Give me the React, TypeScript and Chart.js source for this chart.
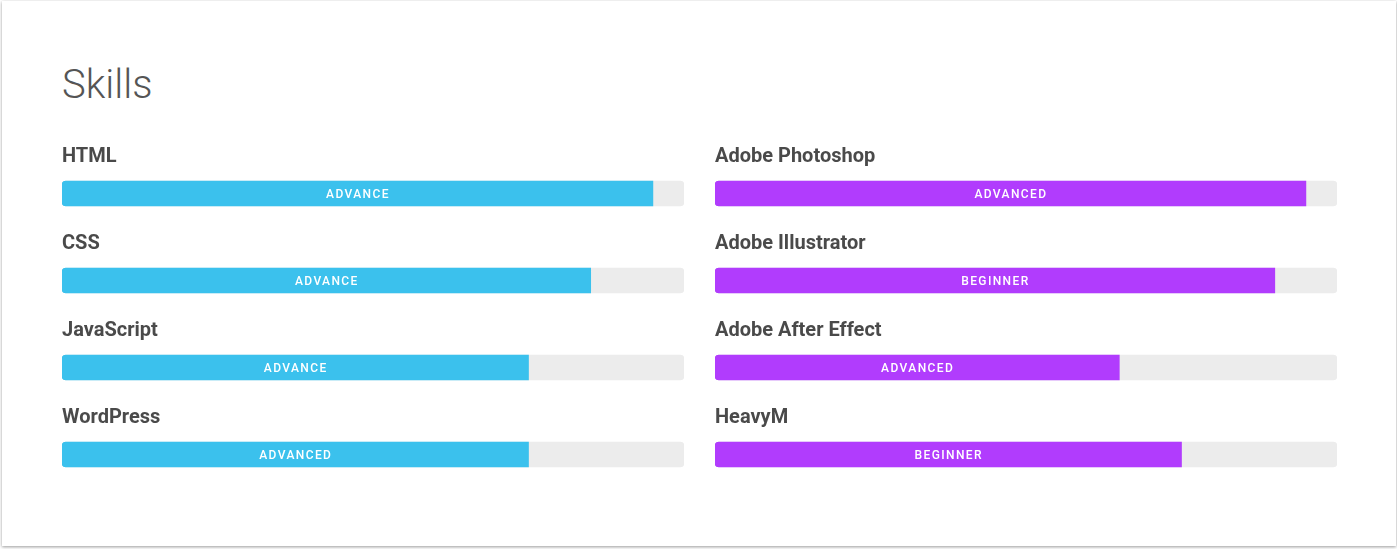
import React, { useEffect, useRef } from "react";
import { Chart, registerables } from "chart.js";

Chart.register(...registerables);

const leftSkills = ["HTML", "CSS", "JavaScript", "WordPress"];
const leftValues = [95, 85, 75, 75];
const leftLevels = ["ADVANCE", "ADVANCE", "ADVANCE", "ADVANCED"];

const rightSkills = ["Adobe Photoshop", "Adobe Illustrator", "Adobe After Effect", "HeavyM"];
const rightValues = [95, 90, 65, 75];
const rightLevels = ["ADVANCED", "BEGINNER", "ADVANCED", "BEGINNER"];

const trackMax = 100;

type Props = {
  skills: string[];
  values: number[];
  levels: string[];
  color: string;
  left: number;
};

function SkillChart({ skills, values, levels, color, left }: Props) {
  const ref = useRef<HTMLCanvasElement>(null);

  useEffect(() => {
    if (!ref.current) return;
    const textPlugin = {
      id: "skillText",
      afterDatasetsDraw(chart: any) {
        const ctx = chart.ctx as CanvasRenderingContext2D;
        const meta = chart.getDatasetMeta(0);
        ctx.save();
        meta.data.forEach((bar: any, i: number) => {
          const { x, y, base } = bar.getProps(["x", "y", "base"], true);
          (ctx as any).letterSpacing = "0px";
          ctx.font = "bold 20px Roboto";
          ctx.fillStyle = "#4a4a4a";
          ctx.textAlign = "left";
          ctx.textBaseline = "middle";
          ctx.fillText(skills[i], chart.chartArea.left, y - 37);

          (ctx as any).letterSpacing = "1.4px";
          ctx.font = "500 12px Roboto";
          ctx.fillStyle = "#ffffff";
          ctx.textAlign = "center";
          ctx.fillText(levels[i], (x + base) / 2 + 0.5, y + 1);
        });
        ctx.restore();
      },
    };

    const chart = new Chart(ref.current, {
      type: "bar",
      data: {
        labels: skills,
        datasets: [
          {
            data: values,
            backgroundColor: color,
            barThickness: 25,
            grouped: false,
            borderSkipped: false,
            borderRadius: { topLeft: 4, bottomLeft: 4, topRight: 0, bottomRight: 0 },
          } as any,
          {
            data: skills.map(() => trackMax),
            backgroundColor: "#ececec",
            barThickness: 25,
            grouped: false,
            borderSkipped: false,
            borderRadius: 4,
          } as any,
        ],
      },
      options: {
        indexAxis: "y",
        animation: false,
        responsive: false,
        events: [],
        layout: { padding: { top: 30, left: 0, right: 0, bottom: 0 } },
        plugins: {
          legend: { display: false },
          tooltip: { enabled: false },
        },
        scales: {
          x: { type: "linear", min: 0, max: trackMax, display: false },
          y: { type: "category", display: false, offset: true },
        },
      },
      plugins: [textPlugin],
    });
    return () => chart.destroy();
  }, [skills, values, levels, color]);

  return (
    <canvas
      ref={ref}
      width={622}
      height={378}
      style={{ position: "absolute", left, top: 120, width: 622, height: 378 }}
    />
  );
}

export default function App() {
  return (
    <div style={{ position: "absolute", left: 0, top: 0, width: 1397, height: 549, background: "#fff" }}>
      <div
        style={{
          position: "absolute",
          left: 2,
          top: 1,
          width: 1394,
          height: 545,
          background: "#fff",
          boxShadow: "0 1px 3px rgba(0,0,0,0.4)",
        }}
      >
        <div
          style={{
            position: "absolute",
            left: 60,
            top: 64,
            fontFamily: "Roboto",
            fontWeight: 300,
            fontSize: 40,
            lineHeight: "40px",
            color: "#555555",
            whiteSpace: "nowrap",
          }}
        >
          Skills
        </div>
      </div>
      <SkillChart skills={leftSkills} values={leftValues} levels={leftLevels} color="#3bc1ed" left={62} />
      <SkillChart skills={rightSkills} values={rightValues} levels={rightLevels} color="#b13cfd" left={715} />
    </div>
  );
}
